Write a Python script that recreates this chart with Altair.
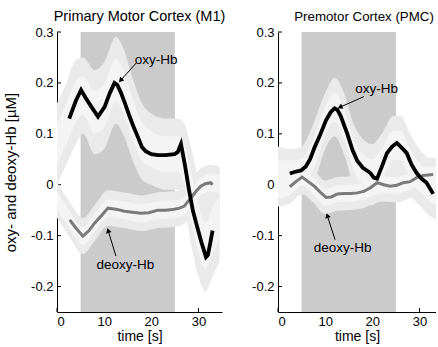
import math
import altair as alt
import pandas as pd

FONT = "Liberation Sans"
X_TICKS = [0, 10, 20, 30]
Y_TICKS = [-0.2, -0.1, 0, 0.1, 0.2, 0.3]
Y_DOMAIN = [-0.25, 0.3]
STIM_START = [5]
STIM_END = [25]

# ---------------- Primary Motor Cortex (M1) ----------------
OXY_M1_T = [2.6, 3.0, 4.0, 5.1, 6.0, 7.3, 8.7, 10.1, 11.2, 12.2, 12.8, 13.6, 14.5,
            15.4, 16.2, 17.1, 18.0, 18.8, 20.0, 21.4, 23.0, 24.9, 25.6, 26.3, 26.7,
            27.2, 28.0, 28.8, 29.8, 30.6, 31.2, 31.6, 32.0, 32.5, 33.0]
OXY_M1 = [0.13, 0.14, 0.165, 0.186, 0.172, 0.153, 0.134, 0.153, 0.18, 0.2, 0.196,
          0.18, 0.158, 0.134, 0.115, 0.095, 0.074, 0.066, 0.06, 0.058, 0.058, 0.06,
          0.064, 0.08, 0.06, 0.035, -0.01, -0.05, -0.085, -0.112, -0.13, -0.142,
          -0.138, -0.115, -0.09]
DEO_M1_T = [2.7, 4.0, 5.5, 6.8, 8.0, 9.5, 10.8, 12.5, 14.3, 16.0, 17.8, 19.5, 21.4,
            23.0, 24.9, 26.0, 27.0, 28.4, 29.5, 30.5, 31.5, 32.6, 33.0]
DEO_M1 = [-0.069, -0.085, -0.101, -0.09, -0.075, -0.06, -0.046, -0.048, -0.052,
          -0.054, -0.056, -0.055, -0.05, -0.05, -0.048, -0.046, -0.042, -0.026,
          -0.013, -0.003, 0.002, 0.004, 0.0]
BAND_OXY_M1_T = [0, 2, 4, 5.5, 8, 10, 12.5, 14, 16, 18, 20, 23, 25.5, 27, 28.5, 30,
                 31.5, 33, 34.5]
BAND_OXY_M1_HI = [0.16, 0.2, 0.245, 0.25, 0.225, 0.24, 0.29, 0.27, 0.21, 0.16, 0.14,
                  0.13, 0.13, 0.12, 0.07, 0.01, -0.03, 0.0, 0.02]
BAND_OXY_M1_LO = [0.0, 0.04, 0.08, 0.1, 0.06, 0.07, 0.12, 0.1, 0.05, 0.01, 0.0,
                  -0.01, -0.01, -0.04, -0.12, -0.18, -0.21, -0.18, -0.15]
BAND_DEO_M1_T = [0, 2.7, 5.5, 8, 10.8, 14, 18, 21.5, 25, 27, 28.5, 30.5, 32.6, 34.5]
BAND_DEO_M1_HI = [0.005, -0.034, -0.066, -0.04, -0.011, -0.015, -0.021, -0.015,
                  -0.013, -0.007, 0.009, 0.032, 0.039, 0.035]
BAND_DEO_M1_LO = [-0.065, -0.104, -0.136, -0.11, -0.081, -0.085, -0.091, -0.085,
                  -0.083, -0.077, -0.061, -0.038, -0.031, -0.035]

# ---------------- Premotor Cortex (PMC) ----------------
OXY_PMC_T = [2.5, 3.5, 4.9, 5.9, 6.8, 7.7, 8.8, 10.2, 11.2, 12.0, 12.6, 13.3, 14.7,
             15.8, 16.8, 18.0, 19.6, 20.3, 21.0, 22.0, 23.1, 24.2, 25.2, 26.3, 27.3,
             28.3, 29.4, 30.4, 31.5, 32.9]
OXY_PMC = [0.022, 0.025, 0.028, 0.036, 0.05, 0.072, 0.095, 0.127, 0.143, 0.15, 0.147,
           0.135, 0.1, 0.068, 0.047, 0.033, 0.023, 0.014, 0.012, 0.035, 0.062, 0.075,
           0.082, 0.072, 0.062, 0.04, 0.023, 0.012, 0.004, -0.018]
DEO_PMC_T = [2.5, 3.8, 5.1, 6.4, 7.7, 9.0, 10.2, 11.3, 12.6, 14.0, 15.4, 16.8, 18.2,
             19.6, 21.0, 22.4, 23.8, 25.2, 26.6, 28.0, 29.4, 30.8, 32.9]
DEO_PMC = [-0.004, 0.006, 0.015, 0.006, -0.003, -0.015, -0.025, -0.024, -0.018,
           -0.017, -0.017, -0.016, -0.013, -0.006, 0.004, 0.0, -0.003, -0.001, 0.004,
           0.006, 0.014, 0.018, 0.02]
BAND_OXY_PMC_T = [0, 2.5, 5, 7.5, 10, 12, 14, 16, 18, 20, 22, 24.5, 26, 28, 30, 32, 34]
BAND_OXY_PMC_HI = [0.075, 0.07, 0.075, 0.12, 0.18, 0.21, 0.18, 0.12, 0.09, 0.08, 0.1,
                   0.135, 0.135, 0.1, 0.07, 0.05, 0.04]
BAND_OXY_PMC_LO = [-0.03, -0.02, -0.02, 0.0, 0.07, 0.095, 0.06, 0.0, -0.03, -0.04,
                   -0.02, 0.02, 0.02, -0.02, -0.04, -0.06, -0.07]
BAND_DEO_PMC_T = [0, 2.5, 5, 7.5, 10, 12.5, 15, 18, 20, 22.5, 25, 27.5, 30, 32, 34]
BAND_DEO_PMC_HI = [0.023, 0.029, 0.048, 0.031, 0.008, 0.015, 0.016, 0.02, 0.028,
                   0.033, 0.031, 0.038, 0.049, 0.053, 0.053]
BAND_DEO_PMC_LO = [-0.043, -0.037, -0.018, -0.035, -0.058, -0.051, -0.05, -0.046,
                   -0.038, -0.033, -0.035, -0.028, -0.017, -0.013, -0.013]

# annotations: text, text position, arrow start, arrow tip
ANN_M1_TEXT = ["oxy-Hb", "deoxy-Hb"]
ANN_M1_TXT_T = [21.0, 14.5]
ANN_M1_TXT_V = [0.245, -0.157]
ANN_M1_A0_T = [16.8, 12.5]
ANN_M1_A0_V = [0.239, -0.14]
ANN_M1_A1_T = [13.6, 10.9]
ANN_M1_A1_V = [0.206, -0.0915]

ANN_PMC_TEXT = ["oxy-Hb", "deoxy-Hb"]
ANN_PMC_TXT_T = [20.9, 13.7]
ANN_PMC_TXT_V = [0.188, -0.125]
ANN_PMC_A0_T = [18.2, 12.1]
ANN_PMC_A0_V = [0.173, -0.108]
ANN_PMC_A1_T = [13.3, 10.5]
ANN_PMC_A1_V = [0.153, -0.062]

H = 280


def band_df(t, lo, hi, shrink=1.0):
    rows = []
    for ti, l, h in zip(t, lo, hi):
        c = (l + h) / 2
        hw = (h - l) / 2 * shrink
        rows.append({"t": ti, "lo": c - hw, "hi": c + hw})
    return pd.DataFrame(rows)


def panel(title, title_size, xmax, width, oxy_t, oxy, deo_t, deo, bo_t, bo_lo, bo_hi,
          bd_t, bd_lo, bd_hi, ann, y_title, title_dx):
    sx = width / xmax
    sy = H / (Y_DOMAIN[1] - Y_DOMAIN[0])
    xs = alt.Scale(domain=[0, xmax], nice=False, zero=False)
    ys = alt.Scale(domain=Y_DOMAIN, nice=False, zero=False)
    xaxis = alt.Axis(values=X_TICKS, title="time [s]", titlePadding=1, labelPadding=3,
                     titleFontSize=14)
    ylabel = ("datum.value == 0 ? '0' : (datum.value < 0 ? '-' : '') + "
              "format(abs(datum.value), '.1f')")
    yaxis = alt.Axis(values=Y_TICKS, title=y_title, labelExpr=ylabel,
                     labelPadding=4, titlePadding=12, titleFontSize=15)

    def X(f):
        return alt.X(f, type="quantitative", scale=xs, axis=xaxis)

    def Y(f):
        return alt.Y(f, type="quantitative", scale=ys, axis=yaxis)

    ytick = alt.Chart(pd.DataFrame({"v": Y_TICKS})).mark_rule(
        color="black", strokeWidth=1).encode(y=Y("v"), x=alt.value(0), x2=alt.value(4))
    xtick = alt.Chart(pd.DataFrame({"t": X_TICKS})).mark_rule(
        color="black", strokeWidth=1).encode(x=X("t"), y=alt.value(H), y2=alt.value(H - 4))
    shade = alt.Chart(pd.DataFrame({"t": STIM_START, "t2": STIM_END})).mark_rect(
        color="#cbcbcb").encode(x=X("t"), x2="t2", y=alt.value(0), y2=alt.value(H))

    layers = [ytick, xtick, shade]
    for shrink, col in [(1.0, "#eaeaea"), (0.5, "#f4f4f4")]:
        for (bt, bl, bh) in [(bo_t, bo_lo, bo_hi), (bd_t, bd_lo, bd_hi)]:
            layers.append(
                alt.Chart(band_df(bt, bl, bh, shrink)).mark_area(
                    color=col, clip=True, interpolate="monotone").encode(
                    x=X("t"), y=Y("lo"), y2="hi"))
    layers.append(alt.Chart(pd.DataFrame({"t": deo_t, "v": deo})).mark_line(
        color="#7a7a7a", strokeWidth=3, clip=True).encode(x=X("t"), y=Y("v")))
    layers.append(alt.Chart(pd.DataFrame({"t": oxy_t, "v": oxy})).mark_line(
        color="black", strokeWidth=3.8, clip=True).encode(x=X("t"), y=Y("v")))

    text, tt, tv, a0t, a0v, a1t, a1v = ann
    rows = []
    for i in range(len(text)):
        dx = (a1t[i] - a0t[i]) * sx
        dy = -(a1v[i] - a0v[i]) * sy
        ang = math.degrees(math.atan2(dx, -dy)) % 360
        rows.append({"label": text[i], "tt": tt[i], "tv": tv[i], "t0": a0t[i],
                     "v0": a0v[i], "t1": a1t[i], "v1": a1v[i], "ang": ang})
    adf = pd.DataFrame(rows)
    layers.append(alt.Chart(adf).mark_rule(color="black", strokeWidth=1).encode(
        x=X("t0"), y=Y("v0"), x2="t1", y2="v1"))
    layers.append(alt.Chart(adf).mark_point(
        shape="triangle", filled=True, size=32, color="black", opacity=1).encode(
        x=X("t1"), y=Y("v1"), angle=alt.Angle("ang:Q", scale=None)))
    layers.append(alt.Chart(adf).mark_text(
        font=FONT, fontSize=13.5, color="black", align="center", baseline="middle").encode(
        x=X("tt"), y=Y("tv"), text="label:N"))
    # panel title as a text mark just above the plot area
    layers.append(alt.Chart(pd.DataFrame({"label": [title]})).mark_text(
        font=FONT, fontSize=title_size, color="black", align="center",
        baseline="alphabetic").encode(
        x=alt.value(width / 2 + title_dx), y=alt.value(-11), text="label:N"))

    return alt.layer(*layers).properties(width=width, height=H)


left = panel("Primary Motor Cortex (M1)", 14.5, 35, 165, OXY_M1_T, OXY_M1, DEO_M1_T,
             DEO_M1, BAND_OXY_M1_T, BAND_OXY_M1_LO, BAND_OXY_M1_HI,
             BAND_DEO_M1_T, BAND_DEO_M1_LO, BAND_DEO_M1_HI,
             (ANN_M1_TEXT, ANN_M1_TXT_T, ANN_M1_TXT_V, ANN_M1_A0_T, ANN_M1_A0_V,
              ANN_M1_A1_T, ANN_M1_A1_V),
             "oxy- and deoxy-Hb [µM]", 0)
right = panel("Premotor Cortex (PMC)", 13.3, 33.5, 158, OXY_PMC_T, OXY_PMC, DEO_PMC_T,
              DEO_PMC, BAND_OXY_PMC_T, BAND_OXY_PMC_LO, BAND_OXY_PMC_HI,
              BAND_DEO_PMC_T, BAND_DEO_PMC_LO, BAND_DEO_PMC_HI,
              (ANN_PMC_TEXT, ANN_PMC_TXT_T, ANN_PMC_TXT_V, ANN_PMC_A0_T, ANN_PMC_A0_V,
               ANN_PMC_A1_T, ANN_PMC_A1_V),
              None, 7)

chart = alt.hconcat(left, right, spacing=25).properties(
    padding={"left": 3, "top": 9, "right": 0, "bottom": 2},
    background="white",
).configure_view(stroke=None).configure_axis(
    grid=False, ticks=False, domainColor="black", domainWidth=1,
    labelFont=FONT, labelFontSize=13, labelColor="black",
    titleFont=FONT, titleFontSize=13, titleFontWeight="normal", titleColor="black",
)

chart.save("out.html", embed_options={"renderer": "svg", "actions": False})
